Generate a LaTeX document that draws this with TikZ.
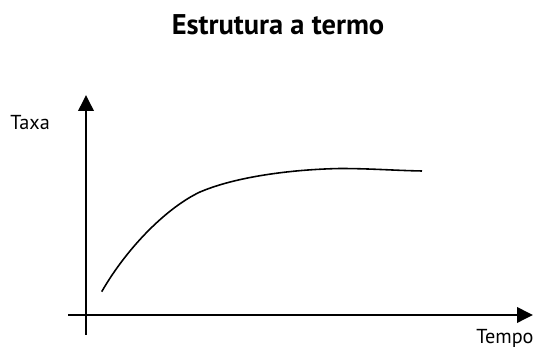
\documentclass[tikz,border=0pt]{standalone}
\usepackage{fontspec}
\setmainfont{PT Sans}
\usepackage{tikz}
\usetikzlibrary{positioning,arrows.meta}
\tikzset{eixo/.style={line width=1.1pt,-{Triangle[length=3.2mm,width=3.1mm]}}}
\tikzset{curva/.style={line width=0.9pt}}
\tikzset{rotulo/.style={inner sep=0pt,font=\fontsize{11.5}{13}\selectfont}}

\begin{document}
\begin{tikzpicture}[x=0.2mm,y=0.2mm]
            \useasboundingbox (0,0) rectangle (539,347);
            \node[inner sep=0pt,anchor=base,font=\fontsize{16.2}{19}\selectfont\bfseries] (titulo) at (278,312) {Estrutura a termo};
            \node[rotulo,anchor=base west] (taxa) at (10,217) {Taxa};
            \node[rotulo,anchor=base] (tempo) at (505,3) {Tempo};
            
            \coordinate (y0) at (86,12);
            \coordinate (y1) at (86,252);
            \coordinate (x0) at (68,32);
            \coordinate (x1) at (533,32);
            \coordinate (c0) at (101.7,55.3);
            \coordinate (c1) at (200,155);
            \coordinate (c2) at (340,178.5);
            \coordinate (c3) at (422,176);
            
            \draw[eixo] (y0) to (y1);
            \draw[eixo] (x0) to (x1);
            \draw[curva] (c0) .. controls (128,101) and (168,140) .. (c1)
                              .. controls (235,170) and (290,177.5) .. (c2)
                              .. controls (370,178.5) and (395,176.5) .. (c3);
        \end{tikzpicture}
\end{document}
